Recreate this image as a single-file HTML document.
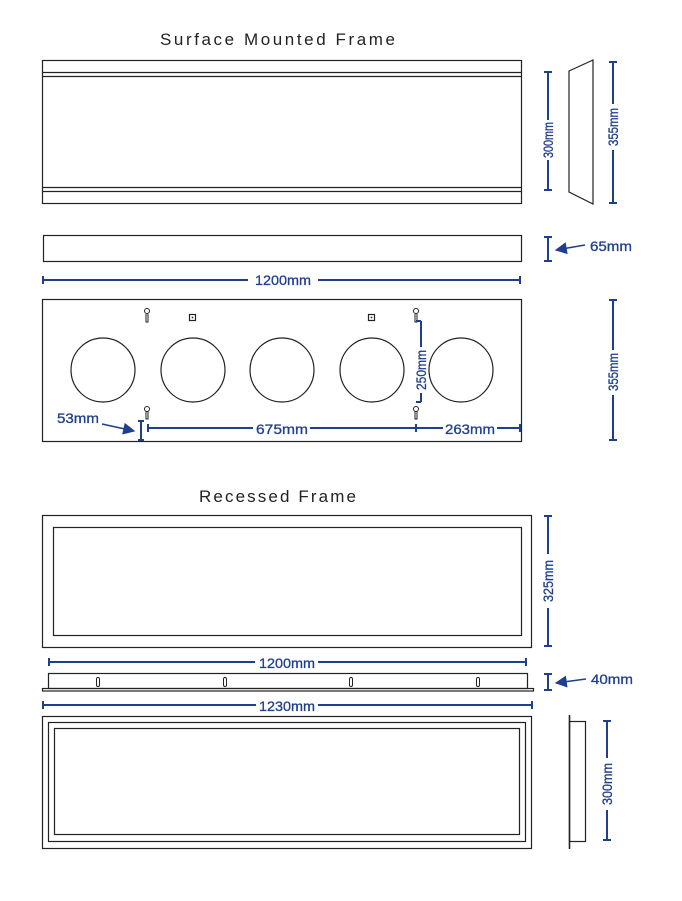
<!DOCTYPE html>
<html><head><meta charset="utf-8"><style>html,body{margin:0;padding:0;background:#fff}svg{display:block}</style></head><body>
<svg width="682" height="901" viewBox="0 0 682 901" xmlns="http://www.w3.org/2000/svg" font-family="Liberation Sans, sans-serif">
<defs><marker id="ah" viewBox="0 0 10 10" refX="9" refY="5" markerUnits="userSpaceOnUse" markerWidth="14" markerHeight="12" orient="auto"><path d="M0,0L10,5L0,10z" fill="#1f3f8c"/></marker></defs>
<g fill="none" stroke="#222" stroke-width="1.2">
<rect x="42.5" y="60.5" width="479" height="143"/>
<line x1="42" y1="72.5" x2="521" y2="72.5"/><line x1="42" y1="76.5" x2="521" y2="76.5"/>
<line x1="42" y1="187.5" x2="521" y2="187.5"/><line x1="42" y1="191.5" x2="521" y2="191.5"/>
<polygon points="569,71 593,60 593,204 569,192"/>
<rect x="43.5" y="235.5" width="478" height="26"/>
<rect x="42.5" y="299.5" width="479" height="142"/>
<ellipse cx="103" cy="370" rx="32" ry="32"/><ellipse cx="193" cy="370" rx="32" ry="32"/><ellipse cx="282" cy="370" rx="32" ry="32"/><ellipse cx="372" cy="370" rx="32" ry="32"/><ellipse cx="461" cy="370" rx="32" ry="32"/>
<rect x="189.5" y="314.5" width="6" height="6"/><rect x="368.5" y="314.5" width="6" height="6"/>
<rect x="42.5" y="515.5" width="489" height="132"/>
<rect x="53.5" y="527.5" width="468" height="108"/>
<rect x="48.5" y="673.5" width="479" height="15"/>
<rect x="42.5" y="688.5" width="491" height="2.5"/>
<rect x="42.5" y="716.5" width="489" height="132"/>
<rect x="48.5" y="722.5" width="477" height="119"/>
<rect x="54.5" y="728.5" width="465" height="106"/>
<rect x="569.5" y="721.5" width="16" height="120"/>
<line x1="569.5" y1="715" x2="569.5" y2="849" stroke-width="1.6"/>
</g>
<g fill="#fff" stroke="#222" stroke-width="1">
<rect x="96.5" y="677.5" width="3" height="9" rx="1.5"/><rect x="223.5" y="677.5" width="3" height="9" rx="1.5"/><rect x="349.5" y="677.5" width="3" height="9" rx="1.5"/><rect x="476.5" y="677.5" width="3" height="9" rx="1.5"/>
<path d="M146,314 v8 h2 v-8"/><circle cx="147" cy="311" r="2.5"/>
<path d="M146,411 v8 h2 v-8"/><circle cx="147" cy="409" r="2.5"/>
<path d="M415,314 v8 h2 v-8"/><circle cx="416" cy="311" r="2.5"/>
<path d="M415,411 v8 h2 v-8"/><circle cx="416" cy="409" r="2.5"/>
</g>
<circle cx="192.5" cy="317.5" r="0.9" fill="#222"/><circle cx="371.5" cy="317.5" r="0.9" fill="#222"/>
<g stroke="#1f3f8c" stroke-width="2" fill="none">
<path d="M548,72v48M548,160v30M544,72h8M544,190h8"/>
<path d="M613,62v42M613,150v53M609,62h8M609,203h8"/>
<path d="M548,237v24M544,237h8M544,261h8"/>
<path d="M43,280h205M318,280h202M43,276v8M520,276v8"/>
<path d="M613,300v50M613,395v45M609,300h8M609,440h8"/>
<path d="M421,321v26M421,393v9M416,321h5M416,402h5"/>
<path d="M148,428h105M310,428h133M497,428h24M148,424v8M416,424v8M520,424v8"/>
<path d="M141,421v19M138,421h6M138,440h6"/>
<path d="M548,516v38M548,608v38M544,516h8M544,646h8"/>
<path d="M49,662h206M318,662h208M49,658v8M526,658v8"/>
<path d="M548,674v16M544,674h8M544,690h8"/>
<path d="M43,705h213M318,705h214M43,701v8M532,701v8"/>
<path d="M607,721v37M607,810v30M603,721h8M603,840h8"/>
</g>
<g stroke="#1f3f8c" stroke-width="1.5" fill="none" marker-end="url(#ah)">
<line x1="585" y1="245" x2="556" y2="250"/>
<line x1="586" y1="679" x2="556" y2="683"/>
<line x1="102" y1="424" x2="134" y2="431"/>
</g>
<g fill="#1f3f8c" font-size="14" stroke="#1f3f8c" stroke-width="0.3">
<text x="283" y="285" text-anchor="middle" textLength="56" lengthAdjust="spacingAndGlyphs">1200mm</text>
<text x="590" y="251" textLength="42" lengthAdjust="spacingAndGlyphs">65mm</text>
<text x="57" y="423" textLength="42" lengthAdjust="spacingAndGlyphs">53mm</text>
<text x="282" y="434" text-anchor="middle" textLength="52" lengthAdjust="spacingAndGlyphs">675mm</text>
<text x="470" y="434" text-anchor="middle" textLength="50" lengthAdjust="spacingAndGlyphs">263mm</text>
<text x="591" y="684" textLength="42" lengthAdjust="spacingAndGlyphs">40mm</text>
<text x="287" y="668" text-anchor="middle" textLength="56" lengthAdjust="spacingAndGlyphs">1200mm</text>
<text x="287" y="711" text-anchor="middle" textLength="56" lengthAdjust="spacingAndGlyphs">1230mm</text>
<text transform="translate(553,140) rotate(-90)" text-anchor="middle" textLength="36" lengthAdjust="spacingAndGlyphs">300mm</text>
<text transform="translate(618,127) rotate(-90)" text-anchor="middle" textLength="38" lengthAdjust="spacingAndGlyphs">355mm</text>
<text transform="translate(618,372) rotate(-90)" text-anchor="middle" textLength="38" lengthAdjust="spacingAndGlyphs">355mm</text>
<text transform="translate(426,370) rotate(-90)" text-anchor="middle" textLength="40" lengthAdjust="spacingAndGlyphs">250mm</text>
<text transform="translate(553,581) rotate(-90)" text-anchor="middle" textLength="42" lengthAdjust="spacingAndGlyphs">325mm</text>
<text transform="translate(612,784) rotate(-90)" text-anchor="middle" textLength="42" lengthAdjust="spacingAndGlyphs">300mm</text>
</g>
<g fill="#222" font-size="17">
<text x="160" y="45" textLength="235" lengthAdjust="spacing">Surface Mounted Frame</text>
<text x="199" y="502" textLength="157" lengthAdjust="spacing">Recessed Frame</text>
</g>
</svg>
</body></html>
